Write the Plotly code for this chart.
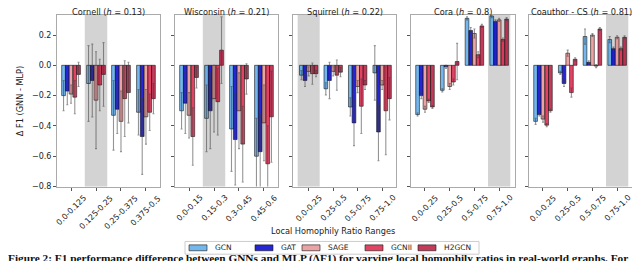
import plotly.graph_objects as go

W, H = 640, 261

models = ["GCN", "GAT", "SAGE", "GCNII", "H2GCN"]
colors = ["rgba(80,165,235,0.8)", "rgba(0,0,205,0.85)", "rgba(230,140,140,0.8)",
          "rgba(220,20,60,0.8)", "rgba(180,10,50,0.8)"]

titles = ["Cornell (<i>h</i> = 0.13)", "Wisconsin (<i>h</i> = 0.21)", "Squirrel (<i>h</i> = 0.22)",
          "Cora (<i>h</i> = 0.8)", "Coauthor - CS (<i>h</i> = 0.81)"]

cats_cornell = ["0.0-0.125", "0.125-0.25", "0.25-0.375", "0.375-0.5"]
cats_wisconsin = ["0.0-0.15", "0.15-0.3", "0.3-0.45", "0.45-0.6"]
cats_quarter = ["0.0-0.25", "0.25-0.5", "0.5-0.75", "0.75-1.0"]

# values: per model, 4 categories
cornell_vals = {
    "GCN":   [-0.20, -0.12, -0.33, -0.31],
    "GAT":   [-0.17, -0.10, -0.29, -0.47],
    "SAGE":  [-0.19, -0.23, -0.37, -0.34],
    "GCNII": [-0.21, -0.13, -0.22, -0.31],
    "H2GCN": [-0.06, -0.06, -0.18, -0.22],
}
cornell_err = {
    "GCN":   [0.10, 0.25, 0.23, 0.15],
    "GAT":   [0.09, 0.24, 0.16, 0.25],
    "SAGE":  [0.06, 0.32, 0.20, 0.18],
    "GCNII": [0.11, 0.17, 0.25, 0.12],
    "H2GCN": [0.08, 0.21, 0.20, 0.10],
}
wisconsin_vals = {
    "GCN":   [-0.30, -0.35, -0.42, -0.60],
    "GAT":   [-0.25, -0.30, -0.49, -0.57],
    "SAGE":  [-0.33, -0.22, -0.30, -0.38],
    "GCNII": [-0.47, -0.24, -0.52, -0.65],
    "H2GCN": [-0.08, 0.10, -0.09, -0.34],
}
wisconsin_err = {
    "GCN":   [0.12, 0.22, 0.28, 0.25],
    "GAT":   [0.20, 0.25, 0.30, 0.25],
    "SAGE":  [0.15, 0.22, 0.25, 0.25],
    "GCNII": [0.19, 0.22, 0.25, 0.25],
    "H2GCN": [0.07, 0.22, 0.10, 0.30],
}
squirrel_vals = {
    "GCN":   [-0.065, -0.155, -0.275, -0.05],
    "GAT":   [-0.10, -0.10, -0.38, -0.44],
    "SAGE":  [-0.04, -0.04, -0.14, -0.13],
    "GCNII": [-0.055, -0.065, -0.27, -0.30],
    "H2GCN": [-0.055, -0.045, -0.13, -0.22],
}
squirrel_err = {
    "GCN":   [0.03, 0.04, 0.06, 0.18],
    "GAT":   [0.04, 0.12, 0.15, 0.19],
    "SAGE":  [0.03, 0.03, 0.04, 0.03],
    "GCNII": [0.07, 0.10, 0.18, 0.29],
    "H2GCN": [0.02, 0.03, 0.03, 0.14],
}
cora_vals = {
    "GCN":   [-0.325, -0.165, 0.31, 0.325],
    "GAT":   [-0.20, -0.01, 0.23, 0.29],
    "SAGE":  [-0.29, -0.14, 0.21, 0.30],
    "GCNII": [-0.235, -0.11, 0.07, 0.17],
    "H2GCN": [-0.275, 0.025, 0.26, 0.305],
}
cora_err = {
    "GCN":   [0.01, 0.01, 0.01, 0.01],
    "GAT":   [0.02, 0.01, 0.02, 0.01],
    "SAGE":  [0.02, 0.02, 0.03, 0.01],
    "GCNII": [0.01, 0.02, 0.02, 0.01],
    "H2GCN": [0.01, 0.12, 0.01, 0.01],
}
coauthor_vals = {
    "GCN":   [-0.37, -0.05, 0.19, 0.17],
    "GAT":   [-0.325, -0.12, 0.02, 0.11],
    "SAGE":  [-0.355, 0.08, 0.20, 0.185],
    "GCNII": [-0.395, -0.18, -0.005, 0.11],
    "H2GCN": [-0.30, 0.04, 0.24, 0.185],
}
coauthor_err = {
    "GCN":   [0.02, 0.01, 0.05, 0.02],
    "GAT":   [0.01, 0.02, 0.01, 0.01],
    "SAGE":  [0.02, 0.02, 0.01, 0.01],
    "GCNII": [0.01, 0.03, 0.01, 0.01],
    "H2GCN": [0.01, 0.01, 0.01, 0.01],
}

panels = [
    (cats_cornell, cornell_vals, cornell_err, 1),
    (cats_wisconsin, wisconsin_vals, wisconsin_err, 1),
    (cats_quarter, squirrel_vals, squirrel_err, 0),
    (cats_quarter, cora_vals, cora_err, 3),
    (cats_quarter, coauthor_vals, coauthor_err, 3),
]

y_ticks = [0.2, 0.0, -0.2, -0.4, -0.6, -0.8]
y_ticktext = ["0.2", "0.0", "\u22120.2", "\u22120.4", "\u22120.6", "\u22120.8"]

# pixel layout
px_x = [(49, 152), (167, 270), (285, 388), (403, 507), (521, 625)]
top_px, bot_px = 7, 182
xranges = [(-0.5625, 3.5625), (-0.5625, 3.5625), (-0.641, 3.566), (-0.566, 3.641), (-0.566, 3.641)]

FONT = "DejaVu Sans"
TXT = "#222"
fig = go.Figure()
shapes = []
annotations = []

for p, (cats, vals, errs, shade) in enumerate(panels):
    ax = "" if p == 0 else str(p + 1)
    xs = list(range(len(cats)))
    for m, model in enumerate(models):
        fig.add_trace(go.Bar(
            x=xs, y=vals[model], name=model, showlegend=False,
            xaxis="x" + ax, yaxis="y" + ax,
            width=0.15, offset=-0.375 + 0.15 * m,
            marker=dict(color=colors[m], line=dict(color="rgba(20,20,20,0.85)", width=0.7)),
            error_y=dict(type="data", array=errs[model], color="rgba(60,60,60,0.55)",
                         thickness=1.1, width=1),
        ))
    x0, x1 = px_x[p]
    fig.layout["xaxis" + ax] = dict(
        domain=[x0 / W, x1 / W], range=list(xranges[p]), anchor="y" + ax,
        tickvals=xs, showticklabels=False, ticks="outside", ticklen=3, tickcolor="#555",
        showline=True, mirror=True, linecolor="#aaa", linewidth=1, showgrid=False, zeroline=False,
    )
    fig.layout["yaxis" + ax] = dict(
        domain=[1 - bot_px / H, 1 - top_px / H], range=[-0.8, 0.333], anchor="x" + ax,
        tickvals=y_ticks, ticktext=y_ticktext, showticklabels=(p == 0),
        ticks="outside", ticklen=3, tickcolor="#555",
        showline=True, mirror=True, linecolor="#aaa", linewidth=1, showgrid=False, zeroline=False,
        tickfont=dict(family=FONT, size=8, color=TXT),
    )
    shapes.append(dict(type="rect", xref="x" + ax, yref="y" + ax + " domain",
                       x0=shade - 0.45, x1=shade + 0.45, y0=0, y1=1,
                       fillcolor="#d3d3d3", line=dict(width=0), layer="below"))
    annotations.append(dict(text=titles[p], xref="x" + ax + " domain", yref="paper",
                            x=0.5, y=1 - 4.2 / H, xanchor="center", yanchor="middle",
                            showarrow=False, font=dict(family=FONT, size=8.2, color=TXT)))
    for i, c in enumerate(cats):
        annotations.append(dict(text=c, xref="x" + ax, yref="paper", x=i, y=1 - 186 / H,
                                xanchor="center", yanchor="top", textangle=-45, showarrow=False,
                                font=dict(family=FONT, size=8, color=TXT)))

annotations.append(dict(text="\u0394 F1 (GNN - MLP)", xref="paper", yref="paper",
                        x=12 / W, y=1 - 95 / H, textangle=-90, showarrow=False,
                        xanchor="center", yanchor="middle",
                        font=dict(family=FONT, size=8.2, color=TXT)))
annotations.append(dict(text="Local Homophily Ratio Ranges", xref="paper", yref="paper",
                        x=325 / W, y=1 - 227 / H, showarrow=False, xanchor="center", yanchor="middle",
                        font=dict(family=FONT, size=8.2, color=TXT)))

# manual legend (matplotlib-style patches)
leg_box = (177, 238, 471, 251)
leg_x = [181, 247, 294, 357, 410]
leg_yc = 244.5
shapes.append(dict(type="rect", xref="paper", yref="paper",
                   x0=leg_box[0] / W, x1=leg_box[2] / W, y0=1 - leg_box[3] / H, y1=1 - leg_box[1] / H,
                   fillcolor="white", line=dict(color="#cccccc", width=1), layer="above"))
for m, model in enumerate(models):
    sx = leg_x[m]
    shapes.append(dict(type="rect", xref="paper", yref="paper",
                       x0=sx / W, x1=(sx + 18) / W, y0=1 - (leg_yc + 3) / H, y1=1 - (leg_yc - 3) / H,
                       fillcolor=colors[m], line=dict(color="rgba(20,20,20,0.85)", width=0.7),
                       layer="above"))
    annotations.append(dict(text=model, xref="paper", yref="paper", x=(sx + 24) / W, y=1 - leg_yc / H,
                            xanchor="left", yanchor="middle", showarrow=False,
                            font=dict(family=FONT, size=7.5, color=TXT)))

annotations.append(dict(text="<b>Figure 2: F1 performance difference between GNNs and MLP (\u0394F1) for varying local homophily ratios in real-world graphs. For</b>",
                        xref="paper", yref="paper", x=-2 / W, y=1 - 247 / H, showarrow=False,
                        xanchor="left", yanchor="top",
                        font=dict(family="Liberation Serif", size=11.3, color="#111")))

fig.update_layout(
    width=W, height=H, margin=dict(l=0, r=0, t=0, b=0),
    paper_bgcolor="white", plot_bgcolor="white",
    barmode="overlay",
    shapes=shapes, annotations=annotations,
    showlegend=False,
)

fig.write_html("out.html")
